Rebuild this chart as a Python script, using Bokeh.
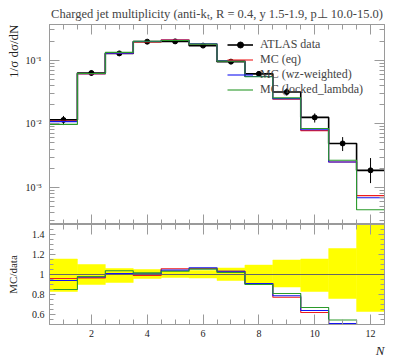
import numpy as np
from bokeh.plotting import figure
from bokeh.models import (FixedTicker, LinearAxis, LogAxis, Legend, LegendItem, Title,
                          Span, CustomJSTickFormatter, SingleIntervalTicker, Range1d)
from bokeh.layouts import column
from bokeh.embed import file_html
from bokeh.resources import INLINE

# ---------------- data ----------------
bin_edges = [0.5, 1.5, 2.5, 3.5, 4.5, 5.5, 6.5, 7.5, 8.5, 9.5, 10.5, 11.5, 12.5]
bin_centers = [1, 2, 3, 4, 5, 6, 7, 8, 9, 10, 11, 12]
data = [0.0115, 0.063, 0.128, 0.196, 0.198, 0.17, 0.095, 0.061, 0.0316, 0.0126, 0.0049, 0.00185]
band_hi = [1.155, 1.10, 1.06, 1.05, 1.035, 1.04, 1.065, 1.094, 1.145, 1.155, 1.26, 1.56]
band_lo = [0.83, 0.90, 0.92, 0.96, 0.97, 0.965, 0.94, 0.91, 0.875, 0.83, 0.76, 0.63]
ratio_eq = [0.96, 0.966, 1.0, 0.99, 1.057, 1.06, 1.033, 0.91, 0.773, 0.62, 0.51, 0.40]
ratio_wz = [0.94, 0.975, 1.01, 1.006, 1.044, 1.067, 1.033, 0.91, 0.787, 0.64, 0.51, 0.37]
ratio_ll = [0.85, 0.98, 1.037, 1.016, 1.033, 1.054, 1.02, 0.90, 0.81, 0.67, 0.545, 0.24]

labels = ["ATLAS data", "MC (eq)", "MC (wz-weighted)", "MC (locked_lambda)"]
colors = ["black", "#ee1c1c", "#1414f0", "#2a9a2a"]

FONT = "Liberation Serif"
AX = "#9a9a9a"

d = np.array(data)
mc_eq = d * np.array(ratio_eq)
mc_wz = d * np.array(ratio_wz)
mc_ll = d * np.array(ratio_ll)
lo = d * np.array(band_lo)
hi = d * np.array(band_hi)


def step_xy(values):
    e = np.array(bin_edges)
    xs = np.repeat(e, 2)[1:-1]
    ys = np.repeat(np.array(values, dtype=float), 2)
    return xs, ys


blankfmt = CustomJSTickFormatter(code="return '';")


def style_axis(ax, major, minor, show_labels, standoff=5):
    ax.axis_line_color = AX
    ax.major_tick_line_color = AX
    ax.minor_tick_line_color = AX
    ax.major_tick_in = major
    ax.major_tick_out = 0
    ax.minor_tick_in = minor
    ax.minor_tick_out = 0
    ax.major_label_text_font = FONT
    ax.major_label_text_color = "#222222"
    if show_labels:
        ax.major_label_text_font_size = "10px"
        ax.major_label_standoff = standoff
    else:
        ax.formatter = blankfmt
        ax.major_label_text_font_size = "1px"
        ax.major_label_standoff = 0


def side_title(text, align, size, style="normal", standoff=2):
    return Title(text=text, align=align, text_font=FONT, text_font_size=size,
                 text_font_style=style, text_color="#222222", standoff=standoff)


log_major = [1e-3, 1e-2, 1e-1]
log_minor = [k * 10.0 ** e for e in (-4, -3, -2, -1) for k in range(2, 10)]

logfmt = CustomJSTickFormatter(code="""
const e = Math.round(Math.log10(tick));
const sup = {'-':'\u207b','0':'\u2070','1':'\u00b9','2':'\u00b2','3':'\u00b3','4':'\u2074','5':'\u2075'};
return '10' + String(e).split('').map(c => sup[c]).join('');
""")

# ---------------- main panel ----------------
p = figure(width=397, height=224, x_range=Range1d(0.5, 12.5), y_range=Range1d(2.6e-4, 0.365),
           y_axis_type="log", output_backend="svg", toolbar_location=None,
           min_border_left=49, min_border_right=13, min_border_top=23, min_border_bottom=0)
p.grid.visible = False
p.outline_line_color = AX
p.title.text = "Charged jet multiplicity (anti-k\u209c, R = 0.4, y 1.5-1.9, p\u22a5 10.0-15.0)"
p.title.text_font = FONT
p.title.text_font_size = "12.5px"
p.title.text_font_style = "normal"
p.title.align = "center"
p.title.standoff = 8

xt = SingleIntervalTicker(interval=2, num_minor_ticks=4)
yt = FixedTicker(ticks=log_major, minor_ticks=log_minor)

p.xaxis.ticker = xt
style_axis(p.xaxis[0], 10, 5, False)
p.yaxis.ticker = yt
p.yaxis.formatter = logfmt
style_axis(p.yaxis[0], 10, 5, True, standoff=8)

top_ax = LinearAxis(ticker=xt)
style_axis(top_ax, 10, 5, False)
p.add_layout(top_ax, "above")
right_ax = LogAxis(ticker=yt)
style_axis(right_ax, 10, 5, False)
p.add_layout(right_ax, "right")
p.add_layout(side_title("1/\u03c3 d\u03c3/dN", "right", "13px", standoff=4), "left")

xs, ys = step_xy(data)
r_data = p.line(xs, ys, line_color="black", line_width=1.6)
p.segment(x0=bin_centers, y0=lo, x1=bin_centers, y1=hi, line_color="black", line_width=1)
r_pts = p.scatter(bin_centers, data, size=5, color="black")

mc_renderers = []
for vals, col in zip([mc_eq, mc_wz, mc_ll], colors[1:]):
    xs, ys = step_xy(vals)
    mc_renderers.append(p.line(xs, ys, line_color=col, line_width=1.1))

legend = Legend(items=[LegendItem(label=labels[0], renderers=[r_data, r_pts])] +
                [LegendItem(label=l, renderers=[r]) for l, r in zip(labels[1:], mc_renderers)],
                location=(178, 127))
legend.background_fill_alpha = 0
legend.border_line_alpha = 0
legend.padding = 0
legend.margin = 0
legend.spacing = 0
legend.glyph_width = 26
legend.glyph_height = 15
legend.label_height = 15
legend.label_standoff = 7
legend.label_text_font = FONT
legend.label_text_font_size = "12px"
p.add_layout(legend)

# ---------------- ratio panel ----------------
r = figure(width=397, height=134, x_range=p.x_range, y_range=Range1d(0.5, 1.5),
           output_backend="svg", toolbar_location=None,
           min_border_left=49, min_border_right=13, min_border_top=0, min_border_bottom=34)
r.grid.visible = False
r.outline_line_color = AX

ryt = SingleIntervalTicker(interval=0.2, num_minor_ticks=4)
r.xaxis.ticker = xt
style_axis(r.xaxis[0], 10, 5, True)
r.yaxis.ticker = ryt
r.yaxis.formatter = CustomJSTickFormatter(code="return (Math.round(tick*10)/10).toString();")
style_axis(r.yaxis[0], 6, 4, True)
r.yaxis.axis_label = "MC/data"
r.yaxis.axis_label_text_font = FONT
r.yaxis.axis_label_text_font_size = "11px"
r.yaxis.axis_label_text_font_style = "normal"
r.yaxis.axis_label_text_color = "#222222"
r.yaxis.axis_label_standoff = 10

rtop = LinearAxis(ticker=xt)
style_axis(rtop, 10, 5, False)
r.add_layout(rtop, "above")
rright = LinearAxis(ticker=ryt)
style_axis(rright, 6, 4, False)
r.add_layout(rright, "right")
r.add_layout(side_title("N", "right", "13px", style="italic", standoff=2), "below")

r.quad(left=bin_edges[:-1], right=bin_edges[1:], bottom=band_lo, top=band_hi,
       fill_color="#ffff00", line_color="#ffff00", line_width=0.5)
r.add_layout(Span(location=1.0, dimension="width", line_color="#666666", line_width=1))
for vals, col in zip([ratio_eq, ratio_wz, ratio_ll], colors[1:]):
    xs, ys = step_xy(vals)
    r.line(xs, ys, line_color=col, line_width=1.1)

layout = column(p, r, spacing=0)
open("out.html", "w").write(file_html(layout, INLINE))
